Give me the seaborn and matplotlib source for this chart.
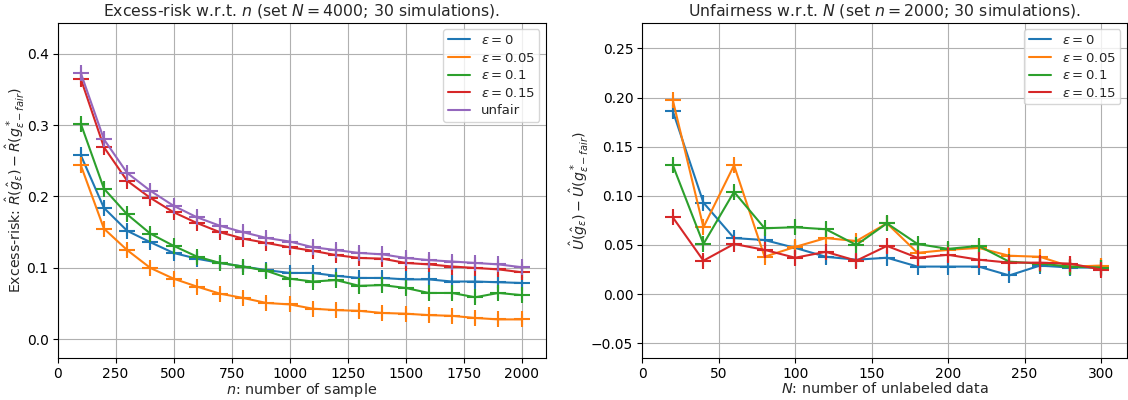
import matplotlib
matplotlib.use('Agg')
import matplotlib.pyplot as plt
from matplotlib.lines import Line2D
import seaborn as sns
import numpy as np

# Left panel: excess risk vs n
n_vals = [100, 200, 300, 400, 500, 600, 700, 800, 900, 1000,
          1100, 1200, 1300, 1400, 1500, 1600, 1700, 1800, 1900, 2000]
risk_eps0 = [0.258, 0.184, 0.152, 0.136, 0.121, 0.113, 0.107, 0.102, 0.097, 0.093,
             0.093, 0.089, 0.086, 0.086, 0.084, 0.084, 0.081, 0.081, 0.080, 0.079]
risk_eps005 = [0.244, 0.155, 0.125, 0.100, 0.085, 0.074, 0.064, 0.058, 0.051, 0.049,
               0.043, 0.041, 0.040, 0.037, 0.036, 0.034, 0.033, 0.030, 0.028, 0.028]
risk_eps01 = [0.302, 0.211, 0.175, 0.148, 0.131, 0.116, 0.107, 0.102, 0.096, 0.085,
              0.081, 0.083, 0.075, 0.076, 0.072, 0.065, 0.065, 0.059, 0.065, 0.062]
risk_eps015 = [0.365, 0.269, 0.222, 0.198, 0.178, 0.163, 0.150, 0.141, 0.135, 0.129,
               0.124, 0.118, 0.114, 0.113, 0.107, 0.105, 0.102, 0.100, 0.098, 0.094]
risk_unfair = [0.373, 0.280, 0.233, 0.208, 0.187, 0.171, 0.159, 0.150, 0.142, 0.137,
               0.129, 0.125, 0.121, 0.119, 0.114, 0.111, 0.109, 0.107, 0.105, 0.101]
risk_err = [0.008, 0.008, 0.008, 0.008, 0.008, 0.008, 0.008, 0.008, 0.008, 0.008,
            0.008, 0.008, 0.008, 0.008, 0.008, 0.008, 0.008, 0.008, 0.008, 0.008]

# Right panel: unfairness vs N
N_vals = [20, 40, 60, 80, 100, 120, 140, 160, 180, 200, 220, 240, 260, 280, 300]
unf_eps0 = [0.186, 0.093, 0.057, 0.055, 0.047, 0.038, 0.035, 0.037,
            0.028, 0.028, 0.028, 0.019, 0.029, 0.027, 0.027]
unf_eps005 = [0.197, 0.068, 0.131, 0.038, 0.048, 0.057, 0.054, 0.072,
              0.042, 0.045, 0.047, 0.039, 0.038, 0.028, 0.029]
unf_eps01 = [0.131, 0.051, 0.104, 0.067, 0.068, 0.066, 0.050, 0.072,
             0.051, 0.046, 0.049, 0.033, 0.031, 0.028, 0.027]
unf_eps015 = [0.078, 0.034, 0.051, 0.045, 0.037, 0.043, 0.034, 0.049,
              0.037, 0.040, 0.035, 0.032, 0.032, 0.031, 0.025]
unf_err = [0.006, 0.006, 0.006, 0.006, 0.007, 0.007, 0.007, 0.007,
           0.007, 0.007, 0.007, 0.007, 0.007, 0.008, 0.008]

labels = [r'$\varepsilon=0$', r'$\varepsilon=0.05$', r'$\varepsilon=0.1$',
          r'$\varepsilon=0.15$', 'unfair']

sns.set_theme(style='ticks', rc={'axes.grid': True, 'grid.color': '#b0b0b0',
                                 'grid.linewidth': 0.8, 'axes.edgecolor': 'black'})
plt.rcParams.update({'font.family': ['DejaVu Sans'], 'xtick.labelsize': 10,
                     'ytick.labelsize': 10, 'legend.fontsize': 9.5})
colors = sns.color_palette('tab10')

fig = plt.figure(figsize=(11.28, 4.0), dpi=100)
ax1 = fig.add_axes([0.051, 0.105, 0.433, 0.838])
ax2 = fig.add_axes([0.5694, 0.105, 0.4297, 0.838])


def draw(ax, x, series, err):
    handles = []
    for i, (y, lab) in enumerate(series):
        c = colors[i]
        ax.errorbar(x, y, yerr=err, fmt='none', ecolor=c, elinewidth=1.5)
        sns.lineplot(x=x, y=y, ax=ax, color=c, marker='+', markersize=11,
                     markeredgewidth=1.5, markeredgecolor=c, linewidth=1.5,
                     errorbar=None, legend=False)
        handles.append(Line2D([], [], color=c, linewidth=1.5, label=lab))
    ax.legend(handles=handles, loc='upper right', fancybox=True, framealpha=0.8,
              handlelength=1.7, labelspacing=0.35, borderpad=0.35)


draw(ax1, n_vals, list(zip([risk_eps0, risk_eps005, risk_eps01, risk_eps015, risk_unfair], labels)),
     risk_err)
draw(ax2, N_vals, list(zip([unf_eps0, unf_eps005, unf_eps01, unf_eps015], labels[:4])), unf_err)

ax1.set_xlim(0, 2105)
ax1.set_ylim(-0.026, 0.443)
ax1.set_xticks([0, 250, 500, 750, 1000, 1250, 1500, 1750, 2000])
ax1.set_yticks([0.0, 0.1, 0.2, 0.3, 0.4])
ax1.set_title(r'Excess-risk w.r.t. $n$ (set $N=4000$; 30 simulations).', fontsize=11.3, pad=5)
ax1.set_xlabel(r'$n$: number of sample', fontsize=10.4, labelpad=0)
ax1.set_ylabel(r'Excess-risk: $\hat{R}(\hat{g}_\varepsilon) - \hat{R}(g^*_{\varepsilon-fair})$',
               fontsize=10.2, labelpad=0)

ax2.set_xlim(0, 317)
ax2.set_ylim(-0.065, 0.276)
ax2.set_xticks([0, 50, 100, 150, 200, 250, 300])
ax2.set_yticks([-0.05, 0.0, 0.05, 0.10, 0.15, 0.20, 0.25])
ax2.set_title(r'Unfairness w.r.t. $N$ (set $n=2000$; 30 simulations).', fontsize=11.3, pad=5)
ax2.set_xlabel(r'$N$: number of unlabeled data', fontsize=10.4, labelpad=0)
ax2.set_ylabel(r'$\hat{U}(\hat{g}_\varepsilon) - \hat{U}(g^*_{\varepsilon-fair})$',
               fontsize=10.2, labelpad=0)

for ax in (ax1, ax2):
    ax.tick_params(direction='out', length=3.5, width=0.8, colors='black', pad=3)
    for s in ax.spines.values():
        s.set_linewidth(0.8)

fig.savefig('out.png', dpi=100)
